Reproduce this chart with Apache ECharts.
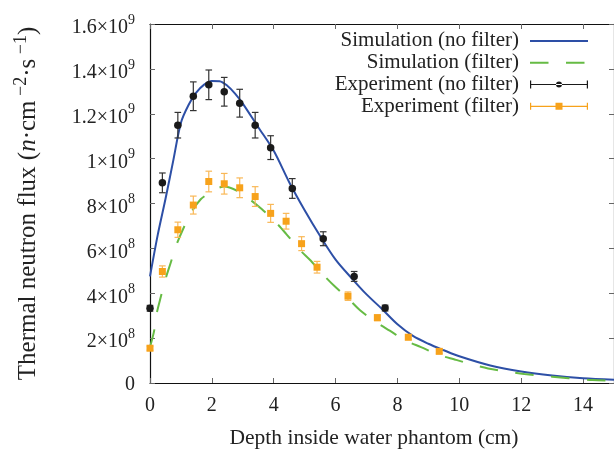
<!DOCTYPE html>
<html>
<head>
<meta charset="utf-8">
<script src="https://cdn.jsdelivr.net/npm/echarts@6/dist/echarts.min.js"></script>
<style>html,body{margin:0;padding:0;background:#fff;}#c{width:614px;height:454px;}</style>
</head>
<body>
<div id="c"></div>
<script>
// Values of flux are in units of 1e9 n·cm^-2·s^-1
const xSimNoFilter = [0, 0.25, 0.5, 0.75, 1.0, 1.25, 1.5, 1.75, 2.0, 2.25, 2.5, 2.75, 3.0, 3.5, 4.0, 4.5, 5.0, 5.5, 6.0, 6.5, 7.0, 7.5, 8.0, 8.5, 9.0, 9.5, 10, 11, 12, 13, 14, 15];
const ySimNoFilter = [0.475, 0.66, 0.82, 0.99, 1.16, 1.24, 1.295, 1.33, 1.346, 1.345, 1.325, 1.29, 1.245, 1.14, 1.035, 0.895, 0.77, 0.655, 0.55, 0.47, 0.395, 0.33, 0.262, 0.21, 0.175, 0.146, 0.119, 0.078, 0.051, 0.033, 0.021, 0.014];

const xSimFilter = [0, 0.13, 0.21, 0.35, 0.5, 0.67, 0.85, 1.06, 1.33, 1.64, 1.9, 2.14, 2.4, 2.8, 3.18, 3.61, 4.06, 4.4, 4.83, 5.2, 5.57, 5.97, 6.39, 6.79, 7.33, 7.75, 8.28, 8.76, 9.34, 9.87, 10.4, 10.93, 11.57, 12.1, 12.74, 13.27, 13.8, 14.3, 15];
const ySimFilter = [0.16, 0.23, 0.306, 0.384, 0.463, 0.536, 0.614, 0.683, 0.760, 0.819, 0.845, 0.865, 0.876, 0.858, 0.823, 0.775, 0.717, 0.665, 0.595, 0.545, 0.487, 0.431, 0.379, 0.324, 0.269, 0.233, 0.188, 0.160, 0.125, 0.104, 0.083, 0.065, 0.050, 0.040, 0.031, 0.025, 0.018, 0.013, 0.010];

const xExpNoFilter = [0, 0.4, 0.9, 1.4, 1.9, 2.4, 2.9, 3.4, 3.9, 4.6, 5.6, 6.6, 7.6];
const yExpNoFilter = [0.333, 0.892, 1.149, 1.278, 1.329, 1.298, 1.247, 1.149, 1.049, 0.867, 0.643, 0.475, 0.334];
const eExpNoFilter = [0.013, 0.044, 0.057, 0.064, 0.066, 0.064, 0.062, 0.057, 0.053, 0.044, 0.031, 0.022, 0.013];

const xExpFilter = [0, 0.4, 0.9, 1.4, 1.9, 2.4, 2.9, 3.4, 3.9, 4.4, 4.9, 5.4, 6.4, 7.35, 8.35, 9.35];
const yExpFilter = [0.155, 0.497, 0.683, 0.793, 0.898, 0.888, 0.870, 0.831, 0.756, 0.721, 0.621, 0.516, 0.387, 0.291, 0.204, 0.141];
const eExpFilter = [0.009, 0.025, 0.034, 0.040, 0.046, 0.046, 0.044, 0.044, 0.040, 0.035, 0.031, 0.026, 0.019, 0.013, 0.011, 0.009];

const seriesNames = ['Simulation (no filter)', 'Simulation (filter)', 'Experiment (no filter)', 'Experiment (filter)'];
const xTicks = [0, 2, 4, 6, 8, 10, 12, 14];

const FONT = 'Liberation Serif';
const TXT = '#222';
const BLUE = '#2d4fa6', GREEN = '#66bb44', BLACK = '#1a1a1a', ORANGE = '#f7a21b', ORANGE_ERR = '#f9b857';

const zip2 = (xs, ys) => xs.map((x, i) => [x, ys[i]]);
const zip3 = (xs, ys, es) => xs.map((x, i) => [x, ys[i], es[i]]);

function errRender(color) {
  return function (params, api) {
    const x = api.value(0), y = api.value(1), e = api.value(2);
    const p1 = api.coord([x, y - e]), p2 = api.coord([x, y + e]);
    const w = 3.3;
    const style = { stroke: color, lineWidth: 1.2 };
    return { type: 'group', children: [
      { type: 'line', shape: { x1: p1[0], y1: p1[1], x2: p2[0], y2: p2[1] }, style },
      { type: 'line', shape: { x1: p1[0] - w, y1: p1[1], x2: p1[0] + w, y2: p1[1] }, style },
      { type: 'line', shape: { x1: p2[0] - w, y1: p2[1], x2: p2[0] + w, y2: p2[1] }, style }
    ]};
  };
}

function yFmt(v) {
  if (Math.abs(v) < 1e-9) return '{z|0}';
  let m, exp;
  if (v < 0.999) { exp = 8; m = Math.round(v * 100) / 10; }
  else { exp = 9; m = Math.round(v * 10) / 10; }
  return '{m|' + m + '×10}{s|' + exp + '}';
}

const chart = echarts.init(document.getElementById('c'), null, { renderer: 'canvas' });
const tickStyle = { show: true, inside: true, length: 5, lineStyle: { color: '#666', width: 1 } };
const lineStyleAxis = { show: true, onZero: false, lineStyle: { color: '#111', width: 1.2 } };
const hiddenSymbol = { color: 'rgba(0,0,0,0)', borderWidth: 0, opacity: 0 };

chart.setOption({
  backgroundColor: '#fff',
  animation: false,
  textStyle: { fontFamily: FONT },
  grid: { left: 150, top: 24, right: -2, bottom: 66, containLabel: false },
  legend: {
    orient: 'vertical', right: 25, top: 30, align: 'right', padding: 0, itemGap: 0,
    itemWidth: 58, itemHeight: 8,
    textStyle: { fontFamily: FONT, fontSize: 21, color: TXT, lineHeight: 21.8, padding: [0, 6, 0, 0] },
    data: [
      { name: seriesNames[0], itemStyle: hiddenSymbol },
      { name: seriesNames[1], itemStyle: hiddenSymbol },
      { name: seriesNames[2], icon: 'path://M0,3.4h58v1.2h-58z M0,0h1.2v8h-1.2z M56.8,0h1.2v8h-1.2z M26,4a3,3 0 1,0 6,0a3,3 0 1,0 -6,0z', itemStyle: { color: BLACK, borderWidth: 0 } },
      { name: seriesNames[3], icon: 'path://M0,3.4h58v1.2h-58z M0,0.5h1.2v7h-1.2z M56.8,0.5h1.2v7h-1.2z M25.5,0.5h7v7h-7z', itemStyle: { color: ORANGE, borderWidth: 0 } }
    ]
  },
  xAxis: [{
    type: 'value', min: 0, max: 15, interval: 2, position: 'bottom',
    name: 'Depth inside water phantom (cm)', nameLocation: 'middle', nameGap: 44,
    nameTextStyle: { fontFamily: FONT, fontSize: 21.5, color: TXT, padding: [0, 16, 0, 0] },
    axisLine: lineStyleAxis, axisTick: tickStyle, splitLine: { show: false },
    axisLabel: { margin: 13, fontFamily: FONT, fontSize: 20, color: TXT, showMaxLabel: false,
      formatter: v => (xTicks.indexOf(v) >= 0 ? String(v) : '') }
  }, {
    type: 'value', min: 0, max: 15, interval: 2, position: 'top',
    axisLine: lineStyleAxis, axisTick: tickStyle, axisLabel: { show: false }, splitLine: { show: false }
  }],
  yAxis: [{
    type: 'value', min: 0, max: 1.6, interval: 0.2, position: 'left',
    name: '{t|Thermal neutron flux (}{i|n}{t|·cm}{s| −2}{t|·s}{s| −1}{t|)}',
    nameLocation: 'middle', nameGap: 106,
    nameTextStyle: { fontFamily: FONT, color: TXT, rich: {
      t: { fontFamily: FONT, fontSize: 25, color: TXT },
      i: { fontFamily: FONT, fontSize: 25, fontStyle: 'italic', color: TXT },
      s: { fontFamily: FONT, fontSize: 18, color: TXT, padding: [0, 0, 14, 0] }
    }},
    axisLine: lineStyleAxis, axisTick: tickStyle, splitLine: { show: false },
    axisLabel: { margin: 15, formatter: yFmt, rich: {
      z: { fontFamily: FONT, fontSize: 20, lineHeight: 20, color: TXT, padding: [4, 0, 0, 0] },
      m: { fontFamily: FONT, fontSize: 20, lineHeight: 20, color: TXT, padding: [8, 0, 0, 0] },
      s: { fontFamily: FONT, fontSize: 14, lineHeight: 14, color: TXT, padding: [0, 0, 8, 0] }
    }}
  }, {
    type: 'value', min: 0, max: 1.6, interval: 0.2, position: 'right',
    axisLine: lineStyleAxis, axisTick: tickStyle, axisLabel: { show: false }, splitLine: { show: false }
  }],
  series: [
    { name: seriesNames[0], type: 'line', data: zip2(xSimNoFilter, ySimNoFilter), smooth: 0.3, symbol: 'none',
      lineStyle: { color: BLUE, width: 2 }, itemStyle: { color: BLUE }, z: 2 },
    { name: seriesNames[1], type: 'line', data: zip2(xSimFilter, ySimFilter), smooth: 0.3, symbol: 'none',
      lineStyle: { color: GREEN, width: 2, type: [18.5, 17.5] }, itemStyle: { color: GREEN }, z: 2 },
    { name: seriesNames[2], type: 'custom', renderItem: errRender('#333'), data: zip3(xExpNoFilter, yExpNoFilter, eExpNoFilter),
      encode: { x: 0, y: 1 }, itemStyle: { color: BLACK, opacity: 1 }, z: 3 },
    { name: seriesNames[3], type: 'custom', renderItem: errRender(ORANGE_ERR), data: zip3(xExpFilter, yExpFilter, eExpFilter),
      encode: { x: 0, y: 1 }, itemStyle: { color: ORANGE, opacity: 1 }, z: 3 },
    { name: seriesNames[2], type: 'scatter', data: zip2(xExpNoFilter, yExpNoFilter), symbol: 'circle', symbolSize: 7.5,
      itemStyle: { color: BLACK, opacity: 1 }, z: 4 },
    { name: seriesNames[3], type: 'scatter', data: zip2(xExpFilter, yExpFilter), symbol: 'rect', symbolSize: 7,
      itemStyle: { color: ORANGE, opacity: 1 }, z: 4 }
  ]
});
</script>
</body>
</html>
